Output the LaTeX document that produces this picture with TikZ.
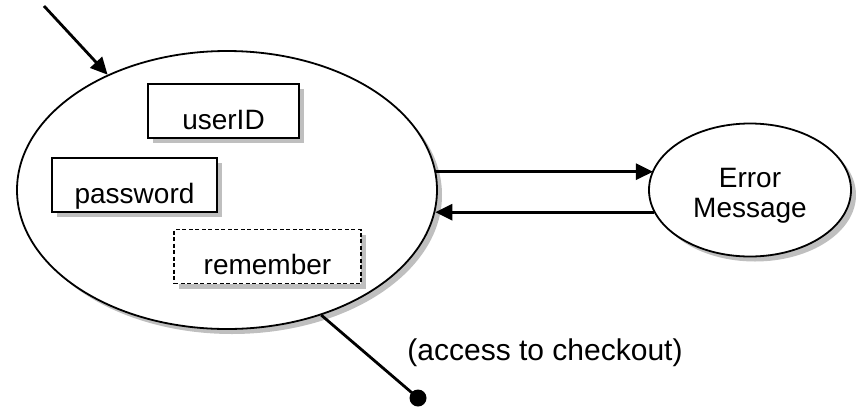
\documentclass[tikz,border=0pt]{standalone}
\usepackage{fontspec}
\setmainfont{Liberation Sans}
\usetikzlibrary{shapes.geometric,shadows,arrows.meta}
\begin{document}
\begin{tikzpicture}[x=1pt,y=-1pt,
  lbl/.style={font=\fontsize{28}{30}\selectfont},
  shad/.style={drop shadow={shadow xshift=5pt,shadow yshift=-5pt,fill=black!25,opacity=1}},
  oval/.style={ellipse,draw=black,line width=1.8pt,fill=white,inner sep=0pt,shad},
  fieldbox/.style={draw=black,line width=1.8pt,fill=white,inner sep=0pt,text height=45pt,text depth=9pt,anchor=base,lbl,shad},
  conn/.style={line width=2.8pt},
  arr/.style={conn,-{Triangle[length=17pt,width=16pt]}}]
\useasboundingbox (0,0) rectangle (860,408);
% states
\node[oval,minimum width=420pt,minimum height=278pt] (main) at (227,190) {};
\node[oval,minimum width=202pt,minimum height=133pt] (err) at (750,190) {};
\node[lbl,align=center] (errtext) at (750,196) {Error\\Message};
% fields
\node[fieldbox,minimum width=151pt] (user) at (223.5,129) {userID};
\node[fieldbox,minimum width=165pt] (pass) at (134.5,203) {password};
\node[fieldbox,minimum width=187pt,dash pattern=on 4pt off 2.5pt] (remember) at (267.5,274.5) {remember};
% entry and exit
\coordinate (start) at (44,6);
\node[circle,fill=black,minimum size=17pt,inner sep=0pt] (dot) at (418,398) {};
\draw[arr] (start) -- (main.136.5);
\draw[conn] (main.-53.6) -- (dot.center);
\node[font=\fontsize{30}{32}\selectfont,anchor=base] (exitlabel) at (545,360) {(access to checkout)};
% transitions
\draw[arr] (main.5.5) -- (main.5.5 -| err.168.3);
\draw[arr] (err.193.6) -- (err.193.6 -| main.-6.3);
\end{tikzpicture}
\end{document}
